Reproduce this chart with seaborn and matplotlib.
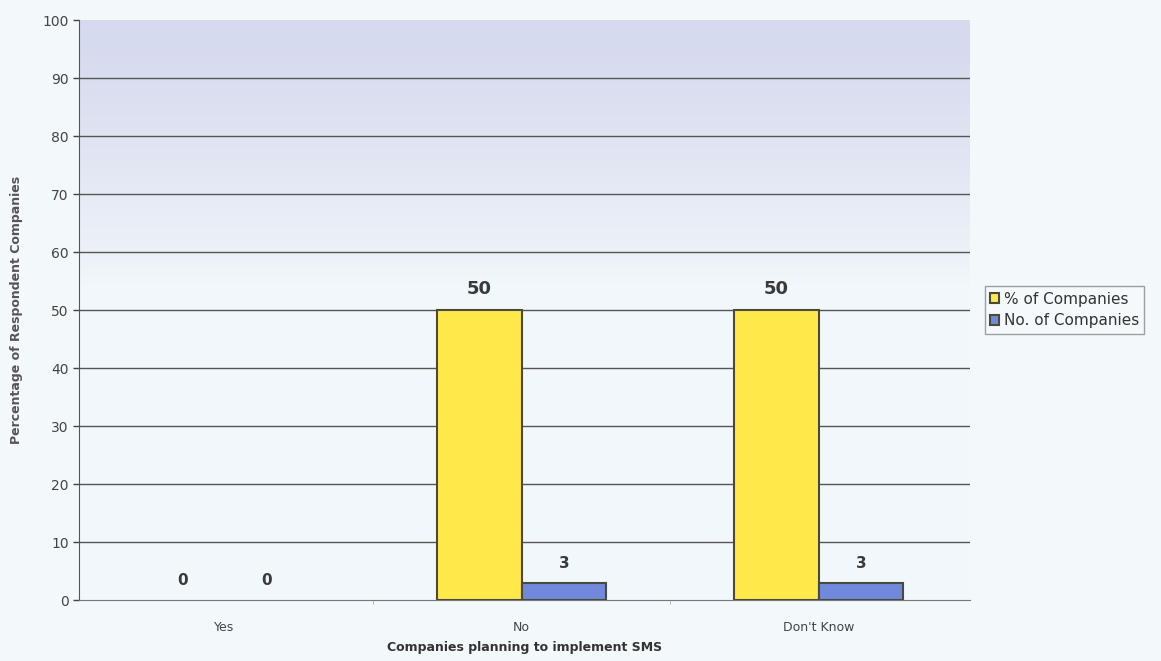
import numpy as np
import pandas as pd
import matplotlib
matplotlib.use("Agg")
import matplotlib.pyplot as plt
import seaborn as sns

categories = ["Yes", "No", "Don't Know"]
pct_companies = [0, 50, 50]
num_companies = [0, 3, 3]
series_names = ["% of Companies", "No. of Companies"]

df = pd.DataFrame({
    "category": categories * 2,
    "value": pct_companies + num_companies,
    "series": [series_names[0]] * 3 + [series_names[1]] * 3,
})

sns.set_style("white")
plt.rcParams["font.family"] = ["DejaVu Sans"]

fig = plt.figure(figsize=(11.61, 6.61), dpi=100, facecolor="#f3f8fb")
ax = fig.add_axes([79 / 1161, 61 / 661, (970 - 79) / 1161, (600 - 20) / 661])

# vertical gradient for the plot area: lavender at the top, fading to pale below the middle
top = np.array([0.84, 0.855, 0.935])
bottom = np.array([0.95, 0.972, 0.985])
t = np.linspace(0, 1, 256)
w = np.clip((t - 0.54) / 0.42, 0, 1) ** 0.8
w = w[:, None]
grad = bottom * (1 - w) + top * w
img = grad[:, None, :].repeat(2, axis=1)
ax.imshow(img, extent=[0, 1, 0, 1], transform=ax.transAxes, origin="lower",
          aspect="auto", zorder=0)

palette = {series_names[0]: "#ffe94a", series_names[1]: "#7089dc"}
sns.barplot(data=df, x="category", y="value", hue="series", palette=palette,
            width=0.57, edgecolor="#4a4a3a", linewidth=1.5, ax=ax, zorder=3,
            saturation=1)

for cont in ax.containers:
    for bar in cont:
        h = bar.get_height()
        if h == 0:
            bar.set_visible(False)
        ax.text(bar.get_x() + bar.get_width() / 2, h + 2.0, f"{h:.0f}",
                ha="center", va="bottom", fontsize=13 if h > 10 else 11,
                fontweight="bold", color="#3a3a3a", zorder=5)

ax.set_xlim(-0.49, 2.51)
ax.set_ylim(0, 100)
ax.set_yticks(range(0, 101, 10))
for y in range(10, 100, 10):
    ax.axhline(y, color="#555555", linewidth=1.0, zorder=1)

ax.tick_params(axis="y", labelsize=10, colors="#444444", length=4, width=1,
               left=True, direction="out")
ax.tick_params(axis="x", labelsize=9, colors="#444444", length=0, pad=15)
ax.set_xticks([0.5, 1.5], minor=True)
ax.tick_params(axis="x", which="minor", length=3, color="#aaaaaa", bottom=True)

for s in ["top", "right"]:
    ax.spines[s].set_visible(False)
ax.spines["left"].set_color("#555555")
ax.spines["bottom"].set_color("#777777")

ax.set_xlabel("Companies planning to implement SMS", fontsize=9,
              fontweight="bold", color="#333333", labelpad=5)
ax.set_ylabel("Percentage of Respondent Companies", fontsize=9,
              fontweight="bold", color="#555555", labelpad=14)

leg = ax.legend(loc="center left", bbox_to_anchor=(1.008, 0.5), frameon=True,
                fontsize=11, handlelength=0.6, handleheight=0.6,
                handletextpad=0.3, borderpad=0.35, labelspacing=0.45,
                fancybox=False, edgecolor="#888888")
leg.get_frame().set_facecolor("#f6fafc")
for txt in leg.get_texts():
    txt.set_color("#333333")

fig.savefig("out.png", dpi=100, facecolor=fig.get_facecolor())
